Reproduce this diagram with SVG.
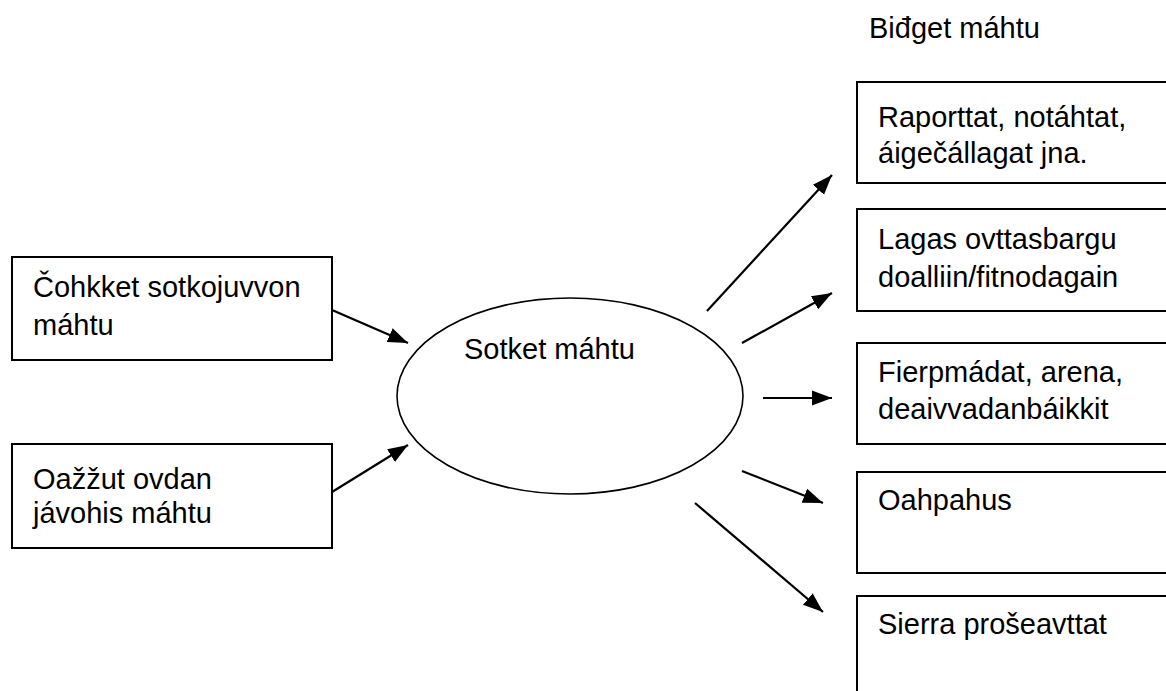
<svg xmlns="http://www.w3.org/2000/svg" width="1166" height="691" viewBox="0 0 1166 691">
<style>
  .box { fill: #ffffff; stroke: #000000; stroke-width: 2; }
  .ell { fill: #ffffff; stroke: #000000; stroke-width: 1.6; }
  .t { font-family: "Liberation Sans", Arial, sans-serif; font-size: 29px; fill: #000000; }
  .conn { stroke: #000000; stroke-width: 2.2; fill: none; marker-end: url(#ah); }
</style>
<defs>
  <marker id="ah" markerUnits="userSpaceOnUse" markerWidth="22" markerHeight="18" viewBox="0 0 22 18" refX="20" refY="9" orient="auto">
    <path d="M0,1.5 L20,9 L0,16.5 Z" fill="#000000"/>
  </marker>
</defs>
<rect width="1166" height="691" fill="#ffffff"/>
<g id="title">
  <text class="t" x="869" y="38">Biđget máhtu</text>
</g>
<g id="in1">
  <rect class="box" x="12" y="257" width="320" height="103"/>
  <text class="t" x="33" y="297">Čohkket sotkojuvvon</text>
  <text class="t" x="33" y="335">máhtu</text>
</g>
<g id="in2">
  <rect class="box" x="12" y="444" width="320" height="104"/>
  <text class="t" x="33" y="489">Oažžut ovdan</text>
  <text class="t" x="33" y="523">jávohis máhtu</text>
</g>
<g id="center">
  <ellipse class="ell" cx="570" cy="396" rx="173" ry="98"/>
  <text class="t" x="464" y="359">Sotket máhtu</text>
</g>
<g id="out1">
  <rect class="box" x="857" y="82" width="330" height="101"/>
  <text class="t" x="878" y="127">Raporttat, notáhtat,</text>
  <text class="t" x="878" y="163">áigečállagat jna.</text>
</g>
<g id="out2">
  <rect class="box" x="857" y="209" width="330" height="102"/>
  <text class="t" x="878" y="249">Lagas ovttasbargu</text>
  <text class="t" x="878" y="287">doalliin/fitnodagain</text>
</g>
<g id="out3">
  <rect class="box" x="857" y="343" width="330" height="101"/>
  <text class="t" x="878" y="382">Fierpmádat, arena,</text>
  <text class="t" x="878" y="419">deaivvadanbáikkit</text>
</g>
<g id="out4">
  <rect class="box" x="857" y="472" width="330" height="101"/>
  <text class="t" x="878" y="510">Oahpahus</text>
</g>
<g id="out5">
  <rect class="box" x="857" y="596" width="330" height="120"/>
  <text class="t" x="878" y="634">Sierra prošeavttat</text>
</g>
<g id="connectors">
  <line class="conn" x1="332" y1="310" x2="408" y2="343"/>
  <line class="conn" x1="332" y1="492" x2="408" y2="445"/>
  <line class="conn" x1="707" y1="311" x2="832" y2="175"/>
  <line class="conn" x1="742" y1="343" x2="832" y2="293"/>
  <line class="conn" x1="763" y1="398" x2="832" y2="398"/>
  <line class="conn" x1="742" y1="471" x2="823" y2="503"/>
  <line class="conn" x1="695" y1="503" x2="823" y2="612"/>
</g>
</svg>
